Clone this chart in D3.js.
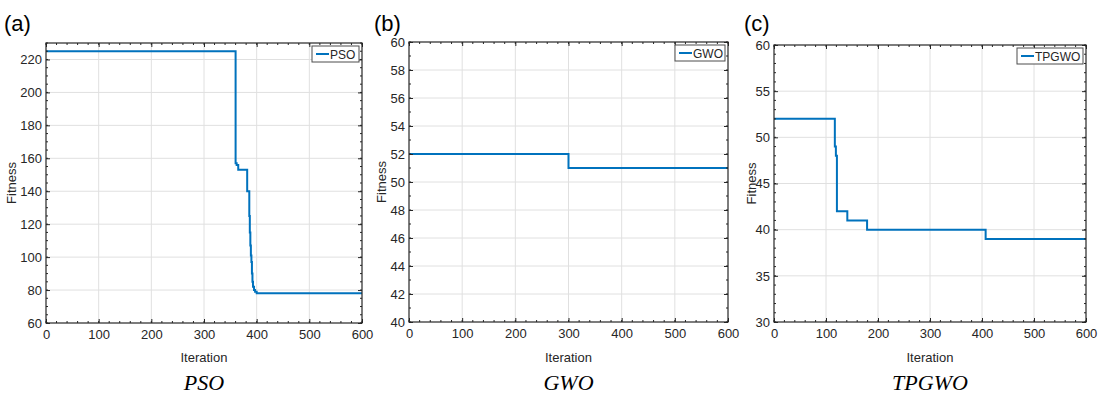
<!DOCTYPE html>
<html>
<head>
<meta charset="utf-8">
<script src="https://cdn.jsdelivr.net/npm/d3@7"></script>
<style>
  body { margin: 0; background: #fff; }
  svg { display: block; }
</style>
</head>
<body>
<div id="viz"></div>
<script>
// convergence curves (iteration where the value changes, fitness)
const pso_iter = [0, 360, 362, 365, 382, 386, 387, 388, 389, 390, 391, 392, 393, 395, 397, 400, 600];
const pso_fit  = [225, 157, 156, 153, 140, 125, 115, 107, 101, 97, 90, 85, 82, 80, 79, 78, 78];

const gwo_iter = [0, 300, 600];
const gwo_fit  = [52, 51, 51];

const tpgwo_iter = [0, 117, 119, 121, 141, 179, 407, 600];
const tpgwo_fit  = [52, 49, 48, 42, 41, 40, 39, 39];

const x_ticks = [0, 100, 200, 300, 400, 500, 600];
const pso_yticks = [60, 80, 100, 120, 140, 160, 180, 200, 220];
const gwo_yticks = [40, 42, 44, 46, 48, 50, 52, 54, 56, 58, 60];
const tpgwo_yticks = [30, 35, 40, 45, 50, 55, 60];

const panel_tags = ['(a)', '(b)', '(c)'];
const names = ['PSO', 'GWO', 'TPGWO'];

const W = 1108, H = 397;
const COLORS = { line: '#0072bd', axis: '#262626', grid: '#e0e0e0' };

const panels = [
  { tag: panel_tags[0], name: names[0], iter: pso_iter, fit: pso_fit, ydom: [60, 230], yticks: pso_yticks, yminor: 5,
    box: { left: 46, right: 362, top: 43, bottom: 323 }, ox: 0, legend_w: 47 },
  { tag: panel_tags[1], name: names[1], iter: gwo_iter, fit: gwo_fit, ydom: [40, 60], yticks: gwo_yticks, yminor: 1,
    box: { left: 409, right: 728, top: 42, bottom: 322 }, ox: 370, legend_w: 50 },
  { tag: panel_tags[2], name: names[2], iter: tpgwo_iter, fit: tpgwo_fit, ydom: [30, 60], yticks: tpgwo_yticks, yminor: 1,
    box: { left: 774, right: 1086, top: 45, bottom: 322 }, ox: 740, legend_w: 66 }
];

const svg = d3.select('#viz').append('svg')
  .attr('width', W)
  .attr('height', H)
  .style('font-family', 'Arial, "Liberation Sans", sans-serif');

panels.forEach(draw_panel);

function draw_panel(p) {
  const b = p.box;
  const x = d3.scaleLinear().domain([0, 600]).range([b.left, b.right]);
  const y = d3.scaleLinear().domain(p.ydom).range([b.bottom, b.top]);
  const g = svg.append('g');

  // grid
  g.append('g').selectAll('line.gx')
    .data(x_ticks.slice(1, -1))
    .enter().append('line')
    .attr('x1', d => x(d)).attr('x2', d => x(d))
    .attr('y1', b.top).attr('y2', b.bottom)
    .attr('stroke', COLORS.grid).attr('stroke-width', 1);
  g.append('g').selectAll('line.gy')
    .data(p.yticks.filter(t => t > p.ydom[0] && t < p.ydom[1]))
    .enter().append('line')
    .attr('x1', b.left).attr('x2', b.right)
    .attr('y1', d => y(d)).attr('y2', d => y(d))
    .attr('stroke', COLORS.grid).attr('stroke-width', 1);

  // data line
  const line = d3.line()
    .x((d, i) => x(p.iter[i]))
    .y(d => y(d))
    .curve(d3.curveStepAfter);
  g.append('path')
    .datum(p.fit)
    .attr('d', line)
    .attr('fill', 'none')
    .attr('stroke', COLORS.line)
    .attr('stroke-width', 2);

  // axes, ticks pointing inward, mirrored on all sides
  const xAxB = d3.axisBottom(x).tickValues(x_ticks).tickSizeInner(-4).tickSizeOuter(0).tickPadding(7);
  const xAxT = d3.axisTop(x).tickValues(x_ticks).tickSizeInner(-4).tickSizeOuter(0).tickFormat('');
  const yAxL = d3.axisLeft(y).tickValues(p.yticks).tickSizeInner(-4).tickSizeOuter(0).tickPadding(4);
  const yAxR = d3.axisRight(y).tickValues(p.yticks).tickSizeInner(-4).tickSizeOuter(0).tickFormat('');

  const xminor = d3.range(0, 601, 20);
  const yminor = d3.range(p.ydom[0], p.ydom[1] + 0.001, p.yminor);

  const axes = [
    g.append('g').attr('transform', `translate(0,${b.bottom})`).call(xAxB),
    g.append('g').attr('transform', `translate(0,${b.top})`).call(xAxT),
    g.append('g').attr('transform', `translate(${b.left},0)`).call(yAxL),
    g.append('g').attr('transform', `translate(${b.right},0)`).call(yAxR)
  ];
  axes.forEach(a => {
    a.select('.domain').remove();
    a.selectAll('line').attr('stroke', COLORS.axis);
    a.selectAll('text').attr('fill', COLORS.axis).style('font-size', '13px');
  });

  // minor ticks
  g.append('g').selectAll('line')
    .data(xminor)
    .enter().append('line')
    .attr('x1', d => x(d)).attr('x2', d => x(d))
    .attr('y1', b.bottom).attr('y2', b.bottom - 2)
    .attr('stroke', COLORS.axis);
  g.append('g').selectAll('line')
    .data(xminor)
    .enter().append('line')
    .attr('x1', d => x(d)).attr('x2', d => x(d))
    .attr('y1', b.top).attr('y2', b.top + 2)
    .attr('stroke', COLORS.axis);
  g.append('g').selectAll('line')
    .data(yminor)
    .enter().append('line')
    .attr('x1', b.left).attr('x2', b.left + 2)
    .attr('y1', d => y(d)).attr('y2', d => y(d))
    .attr('stroke', COLORS.axis);
  g.append('g').selectAll('line')
    .data(yminor)
    .enter().append('line')
    .attr('x1', b.right).attr('x2', b.right - 2)
    .attr('y1', d => y(d)).attr('y2', d => y(d))
    .attr('stroke', COLORS.axis);

  // box
  g.append('rect')
    .attr('x', b.left).attr('y', b.top)
    .attr('width', b.right - b.left).attr('height', b.bottom - b.top)
    .attr('fill', 'none')
    .attr('stroke', COLORS.axis)
    .attr('stroke-width', 1.2);

  // legend
  const lg = g.append('g').attr('transform', `translate(${b.right - 3 - p.legend_w},${b.top + 3})`);
  lg.append('rect')
    .attr('width', p.legend_w).attr('height', 16)
    .attr('fill', '#fff')
    .attr('stroke', '#4d4d4d')
    .attr('stroke-width', 1);
  lg.append('line')
    .attr('x1', 4).attr('x2', 17)
    .attr('y1', 8).attr('y2', 8)
    .attr('stroke', COLORS.line).attr('stroke-width', 2);
  lg.append('text')
    .attr('x', 18).attr('y', 12.5)
    .attr('fill', COLORS.axis)
    .style('font-size', '12px')
    .text(p.name);

  // labels
  g.append('text')
    .attr('x', (b.left + b.right) / 2).attr('y', 362)
    .attr('text-anchor', 'middle')
    .attr('fill', COLORS.axis)
    .style('font-size', '13px')
    .text('Iteration');
  g.append('text')
    .attr('transform', `translate(${p.ox + 16},${(b.top + b.bottom) / 2}) rotate(-90)`)
    .attr('text-anchor', 'middle')
    .attr('fill', COLORS.axis)
    .style('font-size', '13px')
    .text('Fitness');
  g.append('text')
    .attr('x', p.ox + 4).attr('y', 31)
    .attr('fill', '#000')
    .style('font-size', '22px')
    .text(p.tag);
  g.append('text')
    .attr('x', (b.left + b.right) / 2).attr('y', 390)
    .attr('text-anchor', 'middle')
    .attr('fill', '#000')
    .style('font-family', '"Liberation Serif", "Times New Roman", serif')
    .style('font-style', 'italic')
    .style('font-size', '22px')
    .text(p.name);
}
</script>
</body>
</html>
